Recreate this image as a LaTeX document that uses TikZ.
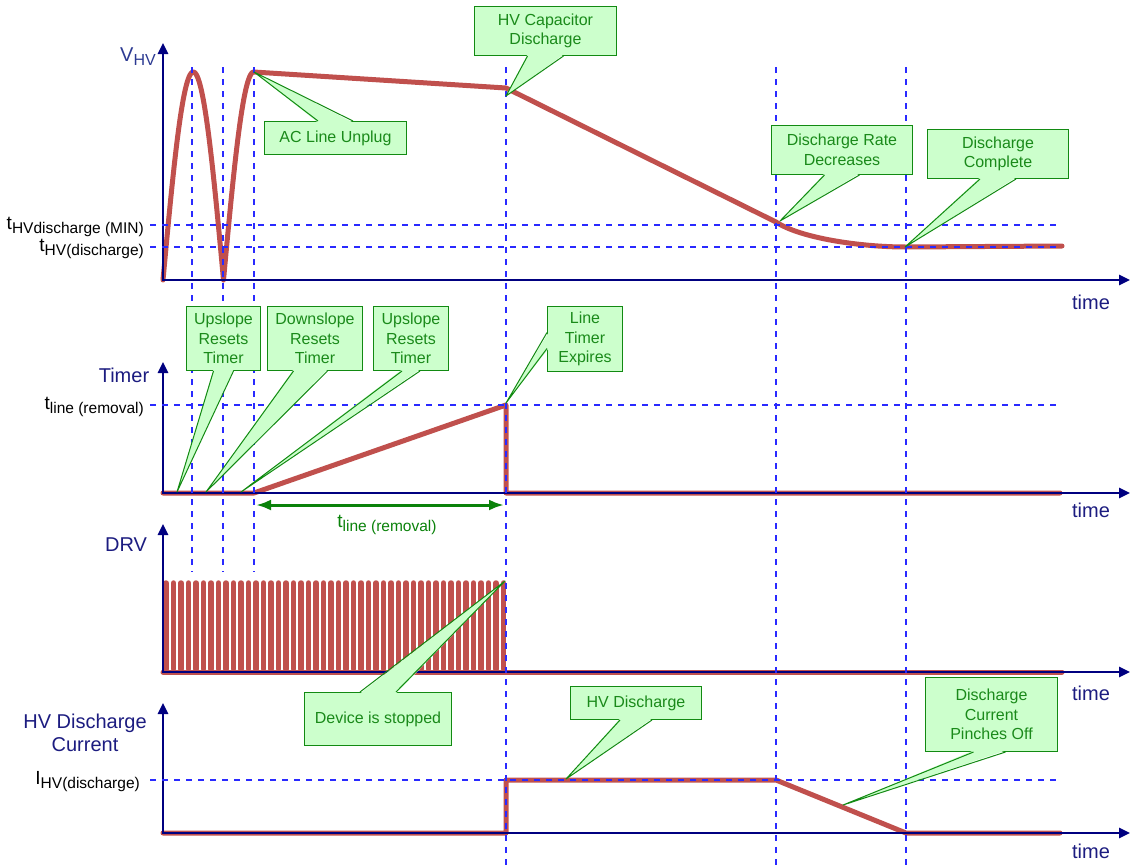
\documentclass[tikz,border=0pt]{standalone}
\usepackage{fontspec}
\setmainfont{Liberation Sans}
\usetikzlibrary{arrows.meta,calc}
\definecolor{sigred}{HTML}{C0504D}
\definecolor{axisnavy}{HTML}{000080}
\definecolor{dashblue}{HTML}{2A2AFF}
\definecolor{cfill}{HTML}{CCFFCC}
\definecolor{cline}{HTML}{128A12}
\definecolor{ctext}{HTML}{1A8A1A}
\definecolor{titlenavy}{HTML}{1C1C80}
\definecolor{vblue}{HTML}{2C3A92}
\definecolor{arrowgreen}{HTML}{0A820A}
\newcommand\mysub[2]{{\fontsize{19}{19}\selectfont #1}\raisebox{-4pt}{\fontsize{15.5}{15.5}\selectfont #2}}
\newcommand\mkptr[4]{%
  \fill[cfill] ($#1+#2-#3$) -- #4 -- ($#1+#2+#3$) -- cycle;
  \draw[ptrline] ($#1-#3$) -- #4 -- ($#1+#3$);}
\begin{document}
\begin{tikzpicture}[x=1pt,y=-1pt,
  sig/.style={sigred,line width=5pt,line join=round,line cap=round},
  pulse/.style={sigred,line width=5.5pt,line cap=round},
  axisline/.style={axisnavy,line width=2.5pt,-{Triangle[length=11pt,width=10pt]}},
  guide/.style={dashblue,line width=1.1pt,dash pattern=on 6pt off 6pt},
  cbox/.style 2 args={draw=cline,fill=cfill,line width=1pt,text=ctext,align=center,
    font=\fontsize{16}{19.5}\selectfont,inner sep=0pt,anchor=north west,
    minimum width=#1pt,minimum height=#2pt},
  ptrline/.style={cline,line width=1pt,line join=round},
  title/.style={text=titlenavy,font=\fontsize{20}{23}\selectfont,align=center,inner sep=0pt},
  ticklabel/.style={text=black,inner sep=0pt,anchor=east},
  span/.style={arrowgreen,line width=3pt,{Latex[length=15pt,width=11pt]}-{Latex[length=15pt,width=11pt]}}
]
\useasboundingbox (0,0) rectangle (1131,865);

% ---------- signals ----------
\draw[sig] plot[domain=0:270,samples=91] ({163+60.5*\x/180},{280-208*abs(sin(\x))})
  -- (506,88) -- (776,222) .. controls (800,238) and (860,247) .. (906,247) -- (1062,246);
\draw[sig] (163,493) -- (254,493) -- (506,405) -- (506,493) -- (1060,493);
\foreach \i in {0,...,45} \draw[pulse] ({166+7.5*\i},669) -- ({166+7.5*\i},583);
\draw[sig] (163,672) -- (1062,672);
\draw[sig] (163,833) -- (506,833) -- (506,780) -- (776,780) -- (906,833) -- (1060,833);

% ---------- axes ----------
\draw[axisline] (163,281) -- (163,43);
\draw[axisline] (162,280) -- (1130,280);
\draw[axisline] (163,494) -- (163,362);
\draw[axisline] (162,493) -- (1130,493);
\draw[axisline] (163,673) -- (163,524);
\draw[axisline] (162,672) -- (1130,672);
\draw[axisline] (163,834) -- (163,703);
\draw[axisline] (162,833) -- (1130,833);

% ---------- guides ----------
\draw[guide] (150,225) -- (1060,225);
\draw[guide] (150,247) -- (1060,247);
\draw[guide] (150,405) -- (1060,405);
\draw[guide] (150,780) -- (1060,780);
\foreach \gx in {192,223,254} \draw[guide] (\gx,67) -- (\gx,572);
\foreach \gx in {506,776,906} \draw[guide] (\gx,67) -- (\gx,865);

% ---------- span arrow ----------
\coordinate (sa) at (256,505);
\coordinate (sb) at (504,505);
\draw[span] (sa) -- (sb);
\node[text=arrowgreen,inner sep=0pt] (spanlbl) at (387,525) {\mysub{t}{line (removal)}};

% ---------- labels ----------
\node[text=vblue,inner sep=0pt,anchor=east] (lvhv) at (156,57) {{\fontsize{20}{20}\selectfont V}\raisebox{-4pt}{\fontsize{16}{16}\selectfont HV}};
\node[title] (ltimer) at (124,375) {Timer};
\node[title] (ldrv) at (126,545) {DRV};
\node[title] (lcur) at (85,733) {HV Discharge\\Current};
\node[title] (time1) at (1091,302) {time};
\node[title] (time2) at (1091,510) {time};
\node[title] (time3) at (1091,693) {time};
\node[title] (time4) at (1091,851) {time};
\node[ticklabel] (lhvmin) at (144,227) {\mysub{t}{HVdischarge (MIN)}};
\node[ticklabel] (lhv) at (144,249) {\mysub{t}{HV(discharge)}};
\node[ticklabel] (lline) at (144,407) {\mysub{t}{line (removal)}};
\node[ticklabel] (lihv) at (140,782) {\mysub{I}{HV(discharge)}};

% ---------- callouts ----------
\coordinate (tac) at (254,72);
\coordinate (thvc) at (506,96);
\coordinate (tdrd) at (780,221);
\coordinate (tdc) at (905,247);
\coordinate (tup1) at (177,492);
\coordinate (tdown) at (206,492);
\coordinate (tup2) at (241,492);
\coordinate (tlte) at (506,403);
\coordinate (tdev) at (505,581);
\coordinate (thvd) at (566,779);
\coordinate (tpin) at (843,805);

\node[cbox={142}{33}] (ac) at (264,121) {AC Line Unplug};
\mkptr{(ac.north)}{(0,1.5)}{(17.5,0)}{(tac)}
\node[cbox={142}{49}] (hvc) at (474,6) {HV Capacitor\\Discharge};
\mkptr{(hvc.south)}{(0,-1.5)}{(18,0)}{(thvc)}
\node[cbox={141}{49}] (drd) at (771,125) {Discharge Rate\\Decreases};
\mkptr{(drd.south)}{(0,-1.5)}{(17.5,0)}{(tdrd)}
\node[cbox={141}{49}] (dc) at (927,129) {Discharge\\Complete};
\mkptr{(dc.south)}{(0,-1.5)}{(18,0)}{(tdc)}
\node[cbox={74}{64}] (up1) at (186,306) {Upslope\\Resets\\Timer};
\mkptr{(up1.south)}{(0,-1.5)}{(10,0)}{(tup1)}
\node[cbox={95}{64}] (down) at (267,306) {Downslope\\Resets\\Timer};
\mkptr{([xshift=-4.5pt]down.south)}{(0,-1.5)}{(17,0)}{(tdown)}
\node[cbox={75}{64}] (up2) at (373,306) {Upslope\\Resets\\Timer};
\mkptr{(up2.south)}{(0,-1.5)}{(9,0)}{(tup2)}
\node[cbox={75}{65}] (lte) at (547,306) {Line\\Timer\\Expires};
\mkptr{([yshift=-1.5pt]lte.west)}{(1.5,0)}{(0,8)}{(tlte)}
\node[cbox={147}{53}] (dev) at (304,692) {Device is stopped};
\mkptr{(dev.north)}{(0,1.5)}{(18,0)}{(tdev)}
\node[cbox={131}{33}] (hvd) at (570,686) {HV Discharge};
\mkptr{(hvd.south)}{(0,-1.5)}{(16,0)}{(thvd)}
\node[cbox={132}{74}] (pin) at (925,677) {Discharge\\Current\\Pinches Off};
\mkptr{([xshift=-2pt]pin.south)}{(0,-1.5)}{(16,0)}{(tpin)}
\end{tikzpicture}
\end{document}
